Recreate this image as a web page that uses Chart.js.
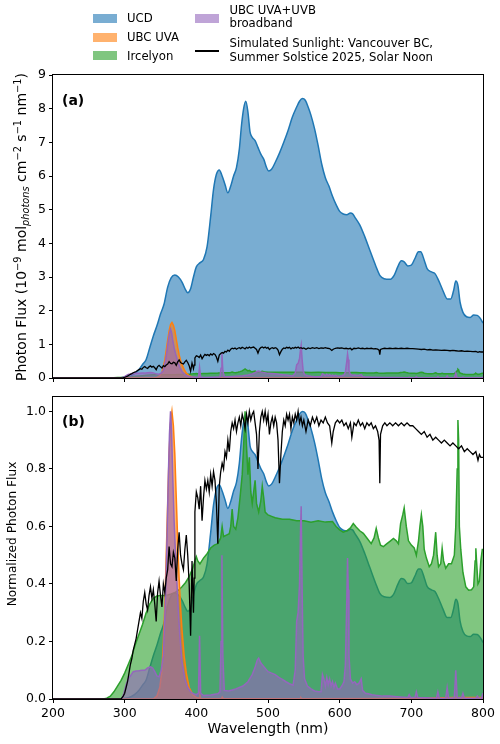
<!DOCTYPE html>
<html><head><meta charset="utf-8">
<script src="https://cdn.jsdelivr.net/npm/chart.js@4.4.1/dist/chart.umd.min.js"></script>
<style>
html,body{margin:0;padding:0;background:#fff;width:500px;height:744px;overflow:hidden;font-family:"DejaVu Sans",sans-serif;}
#wrap{position:relative;width:500px;height:744px;}
canvas{position:absolute;left:0;}
.lg{position:absolute;font-size:11.7px;line-height:14px;color:#000;white-space:nowrap;}
.pt{position:absolute;width:24px;height:9px;}
.plab{position:absolute;font-weight:bold;font-size:14px;line-height:16px;color:#000;}
.ylab{position:absolute;transform:translate(-50%,-50%) rotate(-90deg);white-space:nowrap;line-height:16px;color:#000;}
#ylabA{left:22px;top:226.5px;font-size:14px;}
#ylabB{left:12px;top:533.5px;font-size:12.2px;}
#ylabA .sp{font-size:70%;vertical-align:0.5em;}
#ylabA .sb{font-size:70%;vertical-align:-0.25em;font-style:italic;}
</style></head>
<body><div id="wrap">
<canvas id="cA" width="500" height="330" style="top:60px"></canvas>
<canvas id="cB" width="500" height="364" style="top:380px"></canvas>

<div class="pt" style="left:93px;top:14px;background:rgba(31,119,180,0.6)"></div>
<div class="lg" style="left:127px;top:11px">UCD</div>
<div class="pt" style="left:93px;top:33px;background:rgba(255,127,14,0.6)"></div>
<div class="lg" style="left:127px;top:30px">UBC UVA</div>
<div class="pt" style="left:93px;top:51px;background:rgba(44,160,44,0.6)"></div>
<div class="lg" style="left:127px;top:48.5px">Ircelyon</div>
<div class="pt" style="left:195px;top:14px;background:rgba(148,103,189,0.6)"></div>
<div class="lg" style="left:229.5px;top:4px;line-height:13.3px">UBC UVA+UVB<br>broadband</div>
<div style="position:absolute;left:195px;top:50px;width:24px;height:1.5px;background:#000"></div>
<div class="lg" style="left:229.5px;top:36.3px">Simulated Sunlight: Vancouver BC,<br>Summer Solstice 2025, Solar Noon</div>

<div class="plab" style="left:62px;top:92px">(a)</div>
<div class="plab" style="left:62px;top:413px">(b)</div>
<div class="ylab" id="ylabA">Photon Flux (10<span class="sp">−9</span> mol<span class="sb">photons</span> cm<span class="sp">−2</span> s<span class="sp">−1</span> nm<span class="sp">−1</span>)</div>
<div class="ylab" id="ylabB">Normalized Photon Flux</div>
</div>
<script>
// ---- data: [wavelength nm, value] ----
// UCD absolute photon flux (panel a units)
const ucd = [[200,0],[280,0],[290,0],[300,0.02],[305,0.04],[310,0.08],[315,0.15],[320,0.25],[325,0.4],[330,0.55],[335,0.9],
[340,1.25],[345,1.55],[350,1.9],[355,2.2],[360,2.7],[365,2.98],[370,3.06],[375,3.0],[380,2.85],[385,2.62],
[388,2.53],[392,2.65],[396,3.0],[400,3.3],[405,3.42],[410,3.52],[415,3.9],[420,4.8],[424,5.6],[428,6.05],
[432,6.18],[436,6.0],[440,5.75],[444,5.5],[448,5.7],[452,6.0],[456,6.25],[460,6.8],[463,7.5],[466,8.0],
[469,8.22],[472,7.9],[475,7.3],[478,7.15],[482,7.05],[486,6.85],[490,6.65],[494,6.5],[498,6.25],[501,6.15],
[505,6.2],[510,6.4],[516,6.68],[522,7.0],[528,7.35],[534,7.75],[540,8.05],[544,8.22],[548,8.3],[552,8.25],
[556,8.05],[560,7.8],[565,7.4],[570,6.9],[575,6.35],[580,5.95],[585,5.7],[590,5.4],[595,5.15],[600,4.95],
[605,4.87],[610,4.85],[615,4.9],[618,4.88],[622,4.75],[628,4.55],[635,4.2],[642,3.8],[650,3.35],[656,3.05],
[662,2.95],[670,2.93],[676,3.05],[681,3.3],[686,3.48],[690,3.45],[695,3.33],[700,3.35],[705,3.55],[710,3.75],
[713,3.75],[718,3.5],[722,3.25],[728,3.15],[733,3.1],[738,2.9],[744,2.6],[750,2.35],[755,2.35],[759,2.6],
[762,2.88],[765,2.75],[768,2.25],[772,1.95],[777,1.82],[782,1.8],[787,1.87],[792,1.86],[796,1.78],[800,1.63]];

// Ircelyon, normalized (panel b)
const ircelyon = [[200,0],[270,0],[275,0.003],[280,0.01],[285,0.025],[290,0.045],[295,0.065],[300,0.09],[305,0.12],[310,0.15],[315,0.19],
[320,0.225],[325,0.26],[330,0.3],[335,0.33],[340,0.35],[345,0.358],[350,0.36],[355,0.36],[360,0.362],[365,0.365],
[370,0.37],[375,0.378],[380,0.39],[385,0.405],[390,0.425],[395,0.455],[398,0.48],[400,0.495],[402,0.48],[405,0.47],
[410,0.49],[415,0.505],[420,0.525],[425,0.535],[430,0.54],[434,0.56],[436,0.6],[438,0.565],[442,0.57],[446,0.575],
[448,0.6],[450,0.66],[452,0.6],[455,0.59],[458,0.63],[461,0.7],[464,0.78],[466,0.88],[468,1.0],[470,0.88],
[472,0.78],[474,0.84],[476,0.72],[478,0.68],[480,0.72],[482,0.76],[484,0.68],[487,0.65],[490,0.69],[492,0.74],
[494,0.7],[496,0.65],[500,0.64],[505,0.635],[510,0.63],[520,0.625],[530,0.625],[540,0.62],[550,0.62],[560,0.615],
[570,0.62],[580,0.615],[590,0.617],[595,0.6],[600,0.588],[605,0.58],[610,0.585],[615,0.595],[619,0.61],[623,0.598],
[628,0.585],[633,0.576],[638,0.56],[644,0.54],[648,0.56],[651,0.593],[654,0.56],[657,0.535],[661,0.53],[666,0.54],
[671,0.55],[675,0.558],[679,0.55],[682,0.54],[685,0.61],[688,0.64],[690,0.664],[693,0.6],[696,0.55],[700,0.535],
[704,0.525],[707,0.5],[710,0.55],[712,0.6],[714,0.64],[716,0.6],[718,0.52],[721,0.49],[725,0.46],[728,0.47],
[731,0.5],[734,0.58],[736,0.5],[738,0.46],[741,0.47],[743,0.524],[745,0.48],[748,0.455],[752,0.47],[756,0.47],
[760,0.5],[762,0.6],[764,0.8],[765,0.97],[766,0.9],[767,0.6],[769,0.52],[772,0.44],[776,0.39],[780,0.378],
[784,0.38],[787,0.39],[789,0.48],[790,0.524],[791,0.48],[793,0.4],[795,0.41],[797,0.48],[799,0.52],[800,0.52]];

// UBC UVA, normalized
const ubcUva = [[200,0],[300,0],[340,0],[345,0.01],[349,0.04],[352,0.1],[354,0.2],[356,0.32],[358,0.5],[360,0.68],[362,0.85],
[364,0.96],[366,1.0],[368,0.95],[370,0.85],[372,0.7],[374,0.55],[376,0.42],[378,0.32],[380,0.24],[383,0.15],
[386,0.09],[390,0.04],[395,0.015],[400,0.005],[404,0.003],[405,0.012],[406,0.002],[420,0.001],[435,0.001],[436,0.006],
[437,0.001],[500,0.001],[545,0.001],[546,0.004],[547,0.001],[700,0.002],[760,0.005],[800,0.005]];

// UBC UVA+UVB broadband, normalized
const ubcBroad = [[200,0],[290,0],[296,0],[299,0.02],[302,0.05],[305,0.07],[308,0.08],[312,0.095],[316,0.097],[320,0.098],
[324,0.1],[328,0.1],[332,0.108],[336,0.112],[339,0.108],[342,0.095],[345,0.08],[348,0.077],[351,0.1],[354,0.15],
[357,0.35],[359,0.55],[361,0.78],[362.5,0.92],[364,1.0],[365.5,0.93],[367,0.78],[369,0.62],[371,0.5],[373,0.4],
[375,0.3],[377,0.22],[380,0.13],[384,0.07],[388,0.04],[392,0.025],[396,0.018],[400,0.015],[403,0.02],[404.5,0.22],
[406,0.02],[410,0.012],[420,0.014],[430,0.018],[433,0.025],[434.5,0.2],[435.7,0.5],[437,0.15],[439,0.03],[445,0.028],
[455,0.035],[465,0.045],[472,0.06],[478,0.085],[482,0.11],[485,0.135],[487,0.142],[490,0.125],[495,0.11],[500,0.095],
[505,0.09],[510,0.085],[515,0.075],[520,0.068],[525,0.06],[530,0.053],[535,0.048],[538,0.1],[540,0.27],[542,0.3],
[544,0.4],[545.5,0.6],[546.3,0.67],[547.5,0.4],[549,0.15],[551,0.07],[555,0.045],[560,0.035],[565,0.028],[570,0.025],
[574,0.025],[576,0.085],[578,0.07],[580,0.045],[582,0.075],[584,0.05],[586,0.07],[588,0.045],[590,0.06],[592,0.04],
[594,0.055],[597,0.035],[600,0.035],[603,0.045],[606,0.06],[608,0.12],[610,0.35],[611,0.49],[612,0.38],[613,0.15],
[615,0.07],[618,0.055],[621,0.06],[624,0.05],[627,0.055],[630,0.07],[632,0.03],[636,0.02],[640,0.018],[645,0.015],
[650,0.013],[660,0.01],[670,0.01],[680,0.008],[690,0.006],[695,0.005],[697,0.015],[699,0.005],[705,0.005],[707,0.025],
[709,0.005],[720,0.004],[735,0.003],[737,0.025],[739,0.003],[748,0.003],[750,0.04],[752,0.003],[760,0.004],[762,0.1],
[764,0.004],[770,0.004],[772,0.02],[774,0.003],[790,0.003],[792,0.01],[794,0.003],[798,0.003],[800,0.02]];

// Simulated sunlight, normalized
const sunlight = [[200,0],[290,0],[295,0],[298,0.01],[300,0.02],[302,0.04],[304,0.06],[306,0.09],[308,0.12],[310,0.14],
[312,0.17],[314,0.19],[316,0.21],[318,0.24],[320,0.27],[322,0.30],[324,0.28],[326,0.34],[328,0.37],[330,0.33],
[332,0.31],[334,0.36],[336,0.39],[338,0.35],[340,0.38],[342,0.33],[344,0.27],[346,0.37],[348,0.41],[350,0.36],
[352,0.32],[354,0.40],[356,0.37],[358,0.42],[360,0.45],[362,0.53],[364,0.47],[366,0.46],[368,0.51],[370,0.49],
[372,0.41],[374,0.52],[376,0.58],[378,0.50],[380,0.47],[382,0.45],[384,0.52],[386,0.57],[388,0.50],[390,0.40],
[392,0.22],[394,0.48],[396,0.30],[397,0.42],[398,0.65],[400,0.72],[402,0.70],[404,0.66],[406,0.74],[408,0.62],
[410,0.70],[412,0.76],[414,0.73],[416,0.76],[418,0.72],[420,0.78],[422,0.74],[424,0.79],[426,0.76],[428,0.68],
[430,0.54],[432,0.74],[434,0.79],[436,0.82],[438,0.80],[440,0.86],[442,0.84],[444,0.90],[446,0.86],[448,0.93],
[450,0.96],[452,0.94],[454,0.97],[456,0.93],[458,0.96],[460,0.98],[462,0.95],[464,0.99],[466,0.97],[468,0.94],
[470,0.99],[472,0.96],[474,1.0],[476,0.97],[478,0.99],[480,1.0],[482,0.96],[484,0.92],[486,0.80],[488,0.93],
[490,0.98],[492,1.0],[494,0.97],[496,1.0],[498,0.96],[500,0.99],[502,0.92],[504,0.96],[506,0.98],[508,0.95],
[510,0.98],[512,0.96],[514,0.90],[516,0.75],[518,0.85],[520,0.93],[522,0.97],[524,0.95],[526,0.99],[528,0.97],
[530,0.99],[532,0.94],[534,0.98],[536,0.96],[538,0.99],[540,0.97],[542,1.0],[544,0.96],[546,0.98],[548,0.95],
[550,0.97],[553,0.93],[556,0.97],[559,0.95],[562,0.98],[565,0.96],[568,0.98],[571,0.95],[574,0.97],[577,0.96],
[580,0.98],[583,0.96],[586,0.95],[589,0.89],[591,0.93],[594,0.96],[597,0.97],[600,0.96],[603,0.97],[606,0.95],
[609,0.96],[612,0.94],[615,0.96],[617,0.91],[620,0.96],[623,0.95],[626,0.97],[629,0.95],[632,0.96],[635,0.94],
[638,0.96],[641,0.95],[644,0.96],[647,0.94],[650,0.95],[653,0.93],[655,0.90],[656,0.75],[657,0.92],[660,0.95],
[663,0.96],[666,0.95],[670,0.96],[674,0.95],[678,0.96],[682,0.95],[686,0.96],[690,0.95],[694,0.96],[698,0.95],
[702,0.95],[706,0.94],[710,0.93],[714,0.92],[718,0.93],[722,0.91],[726,0.92],[730,0.90],[734,0.91],[738,0.90],
[742,0.89],[746,0.90],[750,0.89],[754,0.88],[758,0.89],[762,0.88],[766,0.87],[770,0.88],[774,0.86],[778,0.87],
[782,0.86],[786,0.85],[790,0.86],[793,0.83],[795,0.85],[797,0.84],[800,0.84]];

// peak photon flux of the normalized series (panel a units)
const ircelyonPeak = 0.27;
const ubcUvaPeak = 1.65;
const ubcBroadPeak = 1.45;
const sunlightPeak = 0.92;

const xTicks = [200,300,400,500,600,700,800];
const yTicksA = [0,1,2,3,4,5,6,7,8,9];
const yTicksB = [0,0.2,0.4,0.6,0.8,1.0];

// ---- chart ----
Chart.defaults.font.family = '"DejaVu Sans", sans-serif';
Chart.defaults.font.size = 12.5;
Chart.defaults.color = '#000';

const ucdMax = Math.max(...ucd.map(p => p[1]));
const toPts = (arr, k) => arr.map(([x, y]) => ({x, y: y * k}));

function area(label, pts, line, fill, order, smooth) {
  return {label, data: pts, borderColor: line, backgroundColor: fill, fill: 'origin',
    borderWidth: 1.5, pointRadius: 0, order,
    tension: smooth ? 0.4 : 0, cubicInterpolationMode: smooth ? 'monotone' : 'default'};
}
function datasets(kU, kI, kO, kP, kS) {
  return [
    area('UCD', toPts(ucd, kU), '#1f77b4', 'rgba(31,119,180,0.6)', 4, true),
    area('Ircelyon', toPts(ircelyon, kI), '#2ca02c', 'rgba(44,160,44,0.6)', 3, false),
    area('UBC UVA', toPts(ubcUva, kO), '#ff7f0e', 'rgba(255,127,14,0.6)', 2, false),
    area('UBC UVA+UVB broadband', toPts(ubcBroad, kP), '#9467bd', 'rgba(148,103,189,0.6)', 1, false),
    {label: 'Simulated Sunlight', data: toPts(sunlight, kS), borderColor: '#000', borderWidth: 1.3,
     pointRadius: 0, fill: false, tension: 0, order: 0}
  ];
}

const frame = {id: 'frame', afterDatasetsDraw(c) {
  const a = c.chartArea, x = c.ctx;
  x.save(); x.strokeStyle = '#000'; x.lineWidth = 1;
  x.strokeRect(a.left - 0.5, a.top - 0.5, a.right - a.left + 1, a.bottom - a.top + 1);
  x.restore();
}};

function makeChart(id, ds, yMax, yTicks, fmt, showX, padBottom, xH) {
  return new Chart(document.getElementById(id), {
    type: 'line',
    data: {datasets: ds},
    plugins: [frame],
    options: {
      responsive: false, animation: false, devicePixelRatio: 1,
      layout: {padding: {top: id === 'cA' ? 15 : 17, right: 17, left: 0, bottom: padBottom}},
      plugins: {legend: {display: false}, tooltip: {enabled: false}},
      scales: {
        x: {type: 'linear', min: 200, max: 800,
          afterBuildTicks: s => { s.ticks = xTicks.map(v => ({value: v})); },
          afterFit: s => { s.height = xH; },
          grid: {drawOnChartArea: false, drawTicks: true, tickLength: 4, tickColor: '#000', tickWidth: 1},
          border: {display: false},
          ticks: {display: showX, padding: 3, maxRotation: 0, font: {size: 12.5}},
          title: {display: showX, text: 'Wavelength (nm)', font: {size: 14}, padding: {top: 0, bottom: 0}}
        },
        y: {type: 'linear', min: 0, max: yMax,
          afterBuildTicks: s => { s.ticks = yTicks.map(v => ({value: v})); },
          afterFit: s => { s.width = 53; },
          grid: {drawOnChartArea: false, drawTicks: true, tickLength: 4, tickColor: '#000', tickWidth: 1},
          border: {display: false},
          ticks: {padding: 3, callback: fmt, font: {size: 12.5}},
          title: {display: false}
        }
      }
    }
  });
}

makeChart('cA', datasets(1, ircelyonPeak, ubcUvaPeak, ubcBroadPeak, sunlightPeak), 9, yTicksA,
  v => String(v), false, 0, 12);
makeChart('cB', datasets(1 / ucdMax, 1, 1, 1, 1), 1.05, yTicksB,
  v => v.toFixed(1), true, 6, 39);
</script>
</body></html>
